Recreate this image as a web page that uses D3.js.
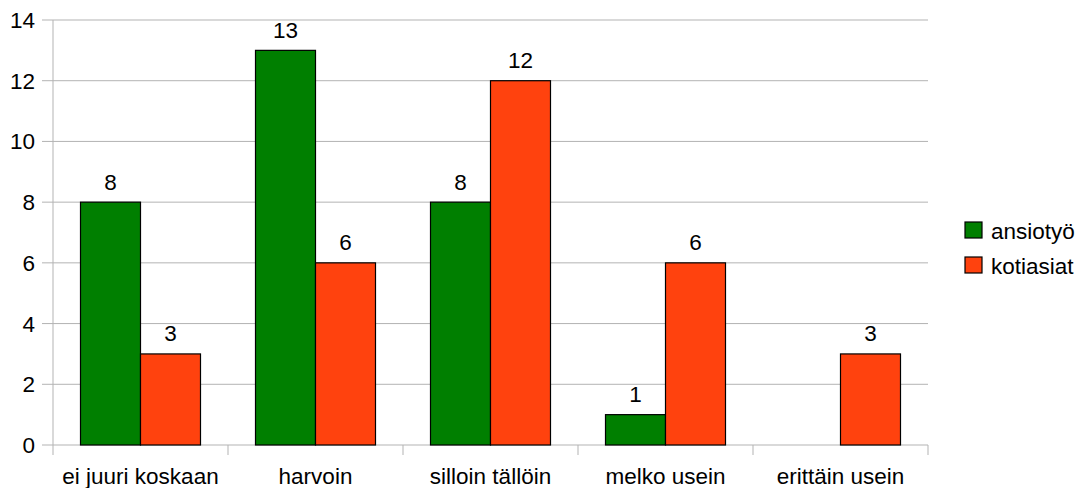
<!DOCTYPE html>
<html>
<head>
<meta charset="utf-8">
<script src="https://cdn.jsdelivr.net/npm/d3@7"></script>
<style>
body { margin: 0; background: #fff; }
text { font-family: "Liberation Sans", Arial, sans-serif; fill: #000; }
</style>
</head>
<body>
<svg id="chart" width="1082" height="488"></svg>
<script>
var categories = ["ei juuri koskaan", "harvoin", "silloin tällöin", "melko usein", "erittäin usein"];
var seriesNames = ["ansiotyö", "kotiasiat"];
var ansiotyo = [8, 13, 8, 1, 0];
var kotiasiat = [3, 6, 12, 6, 3];
var yTicks = [0, 2, 4, 6, 8, 10, 12, 14];
var colors = ["#007f00", "#ff420e"];

var svg = d3.select("#chart");
var plotL = 53, plotR = 928, plotT = 20, plotB = 445;
var fs = "22.5px";

var x = d3.scaleBand().domain(categories).range([plotL, plotR]);
var xs = d3.scaleBand().domain(seriesNames).range([0, 120]);
var y = d3.scaleLinear().domain([0, 14]).range([plotB, plotT]);

// grid
svg.append("g").selectAll("line").data(yTicks).enter().append("line")
	.attr("x1", plotL - 11).attr("x2", plotR)
	.attr("y1", function(d) { return y(d); })
	.attr("y2", function(d) { return y(d); })
	.style("stroke", "#b3b3b3").style("stroke-width", 1);

// vertical axis line + category ticks
svg.append("line").attr("x1", plotL).attr("x2", plotL).attr("y1", plotT).attr("y2", plotB + 10)
	.style("stroke", "#b3b3b3");
svg.append("g").selectAll("line").data(categories).enter().append("line")
	.attr("x1", function(d) { return x(d) + x.bandwidth(); })
	.attr("x2", function(d) { return x(d) + x.bandwidth(); })
	.attr("y1", plotB).attr("y2", plotB + 10)
	.style("stroke", "#b3b3b3");

svg.append("g").selectAll("text").data(yTicks).enter().append("text")
	.attr("x", plotL - 18).attr("y", function(d) { return y(d) + 8; })
	.attr("text-anchor", "end").attr("font-size", fs)
	.text(function(d) { return d; });

svg.append("g").selectAll("text").data(categories).enter().append("text")
	.attr("x", function(d) { return x(d) + x.bandwidth() / 2; })
	.attr("y", 484)
	.attr("text-anchor", "middle").attr("font-size", fs)
	.text(function(d) { return d; });

var series = [ansiotyo, kotiasiat];
series.forEach(function(vals, si) {
	var g = svg.append("g");
	var pts = vals.map(function(v, i) { return {cat: categories[i], v: v}; })
		.filter(function(d) { return d.v > 0; });
	g.selectAll("rect").data(pts).enter().append("rect")
		.attr("x", function(d) { return x(d.cat) + x.bandwidth() / 2 - 60 + xs(seriesNames[si]); })
		.attr("y", function(d) { return y(d.v); })
		.attr("width", xs.bandwidth())
		.attr("height", function(d) { return plotB - y(d.v); })
		.style("fill", colors[si]).style("stroke", "#000").style("stroke-width", 1.2);
	g.selectAll("text").data(pts).enter().append("text")
		.attr("x", function(d) { return x(d.cat) + x.bandwidth() / 2 - 60 + xs(seriesNames[si]) + xs.bandwidth() / 2; })
		.attr("y", function(d) { return y(d.v) - 12.5; })
		.attr("text-anchor", "middle").attr("font-size", fs)
		.text(function(d) { return d.v; });
});

// legend
var lg = svg.append("g").selectAll("g").data(seriesNames).enter().append("g")
	.attr("transform", function(d, i) { return "translate(965," + (222 + i * 35) + ")"; });
lg.append("rect").attr("width", 17).attr("height", 16)
	.style("fill", function(d, i) { return colors[i]; })
	.style("stroke", "#000").style("stroke-width", 1.2);
lg.append("text").attr("x", 26).attr("y", 17).attr("font-size", fs)
	.text(function(d) { return d; });
</script>
</body>
</html>
